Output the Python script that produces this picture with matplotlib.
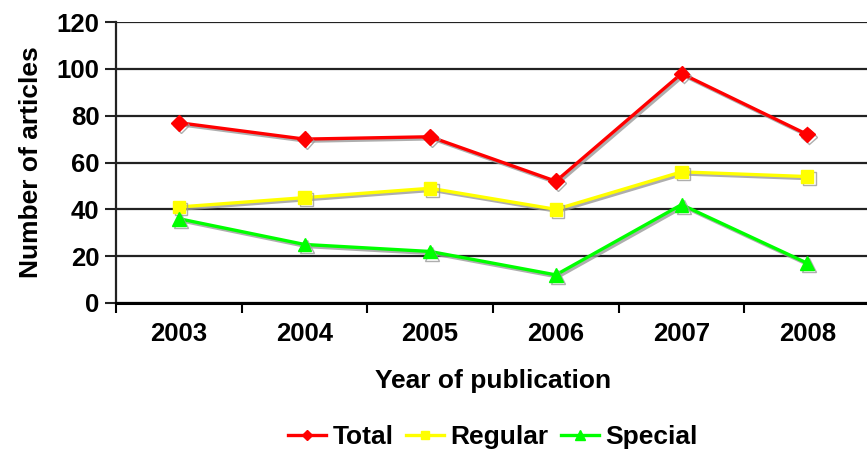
import matplotlib.pyplot as plt
import matplotlib.patheffects as pe
from matplotlib.lines import Line2D

plt.rcParams['font.family'] = ['Liberation Sans', 'DejaVu Sans']
plt.rcParams['font.weight'] = 'bold'

# ===== data ===== #
years = ['2003', '2004', '2005', '2006', '2007', '2008']
total = [77, 70, 71, 52, 98, 72]
regular = [41, 45, 49, 40, 56, 54]
special = [36, 25, 22, 12, 42, 17]

# ===== figure ===== #
fig = plt.figure(figsize=(8.67, 4.5), dpi=100)
ax = fig.add_axes([0.1338, 0.3267, 0.8697, 0.6243])

# grey drop shadow under each series
shadow = [pe.SimpleLineShadow(offset=(1.5, -1.5), shadow_color='#9a9a9a', alpha=0.8), pe.Normal()]
x = list(range(len(years)))
series = [
    (total, 'Total', '#ff0000', 'D', 8),
    (regular, 'Regular', '#ffff00', 's', 9),
    (special, 'Special', '#00ff00', '^', 10),
]
handles = []
for vals, name, col, mk, ms in series:
    ax.plot(x, vals, color=col, lw=2.4, marker=mk, markersize=ms,
            markeredgecolor=col, path_effects=shadow, zorder=3)
    handles.append(Line2D([], [], color=col, lw=2.4, marker=mk, markersize=ms * 0.7,
                          markeredgecolor=col, label=name))

ax.set_xlim(-0.5, 5.5)
ax.set_ylim(0, 120)
ax.set_yticks(range(0, 121, 20))
ax.yaxis.grid(True, color='#222222', lw=1.6)
ax.set_axisbelow(True)

# year labels centred, tick marks between categories
ax.set_xticks(x)
ax.set_xticklabels(years, fontsize=18.5, fontweight='bold')
ax.set_xticks([i - 0.5 for i in range(len(years) + 1)], minor=True)
ax.tick_params(axis='x', which='major', length=0, pad=14)
ax.tick_params(axis='x', which='minor', length=7, width=1.5, color='black', direction='out')
ax.tick_params(axis='y', length=8, width=1.5, color='#222222', labelsize=18.5, pad=4)
for lab in ax.get_yticklabels():
    lab.set_fontweight('bold')

for s in ['top', 'right']:
    ax.spines[s].set_visible(False)
ax.spines['left'].set_linewidth(1.6)
ax.spines['left'].set_color('#222222')
ax.spines['bottom'].set_linewidth(2.2)
ax.spines['bottom'].set_color('black')

ax.set_ylabel('Number of articles', fontsize=19, fontweight='bold', va='center')
ax.set_xlabel('Year of publication', fontsize=19, fontweight='bold', va='center')
ax.yaxis.set_label_coords((31 - 116) / 754, 0.5)
ax.xaxis.set_label_coords(0.5, (303 - 381) / 281)

fig.legend(handles=handles, loc='center', bbox_to_anchor=(493 / 867, 1 - 437 / 450), ncol=3,
           frameon=False, fontsize=19, handlelength=1.45, columnspacing=0.45, handletextpad=0.25)

fig.savefig('out.png', dpi=100)
